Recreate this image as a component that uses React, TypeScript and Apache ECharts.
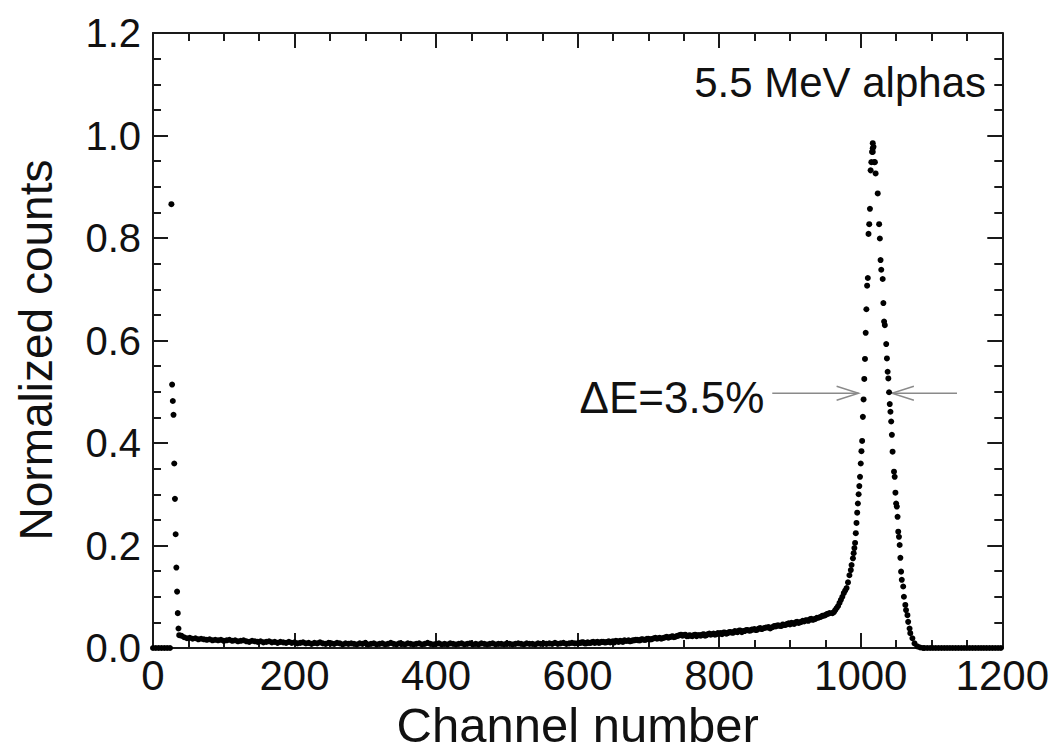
import React, { useEffect, useRef } from "react";
import * as echarts from "echarts";

// ---- data (channel, normalized counts) ----
const lowZeroCh = [0, 4, 8, 12, 16, 20, 24];
const spikeCh = [26, 27, 28, 29, 30, 31, 32, 33, 34, 35, 36, 37];
const spikeVal = [0.866, 0.514, 0.482, 0.455, 0.36, 0.291, 0.222, 0.157, 0.11, 0.068, 0.038, 0.025];

// continuum sampled every 4 channels starting at channel 40
const tailStart = 40;
const tailStep = 4;
const tailVal = [
  0.024, 0.021, 0.019, 0.020, 0.018, 0.019, 0.017, 0.018, 0.017, 0.016,
  0.017, 0.015, 0.016, 0.015, 0.016, 0.014, 0.015, 0.016, 0.014, 0.015,
  0.013, 0.014, 0.015, 0.013, 0.012, 0.014, 0.013, 0.012, 0.013, 0.011,
  0.012, 0.013, 0.011, 0.012, 0.010, 0.012, 0.011, 0.010, 0.012, 0.010,
  0.011, 0.009, 0.010, 0.011, 0.009, 0.010, 0.008, 0.010, 0.009, 0.011,
  0.009, 0.008, 0.010, 0.009, 0.008, 0.010, 0.009, 0.007, 0.009, 0.008,
  0.009, 0.008, 0.007, 0.009, 0.008, 0.010, 0.007, 0.008, 0.009, 0.007,
  0.008, 0.009, 0.007, 0.008, 0.010, 0.008, 0.007, 0.009, 0.008, 0.007,
  0.009, 0.008, 0.007, 0.008, 0.009, 0.007, 0.008, 0.010, 0.008, 0.007,
  0.008, 0.009, 0.007, 0.008, 0.007, 0.009, 0.008, 0.007, 0.008, 0.009,
  0.007, 0.008, 0.009, 0.007, 0.008, 0.007, 0.009, 0.008, 0.007, 0.008,
  0.009, 0.007, 0.008, 0.008, 0.007, 0.009, 0.008, 0.007, 0.008, 0.009,
  0.008, 0.007, 0.009, 0.008, 0.008, 0.007, 0.009, 0.008, 0.009, 0.008,
  0.009, 0.008, 0.010, 0.008, 0.009, 0.010, 0.008, 0.009, 0.010, 0.009,
  0.009, 0.010, 0.011, 0.009, 0.010, 0.011, 0.010, 0.012, 0.011, 0.012,
  0.011, 0.013, 0.012, 0.011, 0.013, 0.014, 0.012, 0.014, 0.015, 0.014,
  0.015, 0.016, 0.015, 0.017, 0.016, 0.018, 0.017, 0.019, 0.018, 0.020,
  0.019, 0.021, 0.020, 0.022, 0.021, 0.023, 0.025, 0.024, 0.026, 0.023,
  0.024, 0.025, 0.023, 0.025, 0.026, 0.024, 0.027, 0.026, 0.028, 0.027,
  0.028, 0.027, 0.030, 0.029, 0.031, 0.030, 0.032, 0.034, 0.031, 0.033,
  0.035, 0.034, 0.036, 0.035, 0.038, 0.037, 0.039, 0.040, 0.038, 0.041,
  0.042, 0.044, 0.043, 0.045, 0.047, 0.046, 0.048, 0.050, 0.049, 0.051,
  0.052, 0.054, 0.056, 0.055, 0.057, 0.059, 0.061, 0.063, 0.066, 0.068,
];
// second sampling of the continuum (offset by 2 channels) where the band is wider
const band2Start = 602;
const band2Val = [
  0.010, 0.011, 0.009, 0.011, 0.010, 0.012, 0.011, 0.010, 0.012, 0.011,
  0.012, 0.011, 0.013, 0.014, 0.012, 0.013, 0.015, 0.014, 0.013, 0.015,
  0.016, 0.015, 0.017, 0.016, 0.018, 0.017, 0.018, 0.020, 0.019, 0.018,
  0.020, 0.022, 0.021, 0.023, 0.022, 0.024, 0.026, 0.025, 0.023, 0.025,
  0.023, 0.026, 0.025, 0.024, 0.027, 0.025, 0.028, 0.027, 0.026, 0.029,
  0.029, 0.030, 0.028, 0.031, 0.030, 0.033, 0.031, 0.034, 0.033, 0.035,
  0.034, 0.036, 0.037, 0.036, 0.039, 0.038, 0.040, 0.041, 0.040, 0.043,
  0.044, 0.043, 0.046, 0.045, 0.048, 0.049, 0.047, 0.051, 0.050, 0.053,
  0.054, 0.053, 0.057, 0.056, 0.059, 0.060, 0.063, 0.064, 0.067,
];

const peakCh = [
  960, 962, 964, 966, 968, 970, 972, 974, 976, 978, 980, 982, 984, 986, 987, 989,
  990, 991, 992, 993, 994, 995, 996, 997, 998, 999, 1000, 1001, 1002, 1003, 1004,
  1005, 1006, 1007, 1008, 1009, 1010, 1011, 1012, 1013, 1014, 1015, 1016, 1017,
  1017, 1017, 1018, 1019, 1020, 1021,
  1024, 1026, 1027, 1028, 1029, 1031, 1032, 1033, 1034, 1036, 1037, 1038, 1039,
  1040, 1041, 1042, 1043, 1044, 1045, 1047, 1048, 1049, 1050, 1051, 1052, 1053,
  1054, 1055, 1056, 1057, 1058, 1060, 1061, 1063, 1064, 1066, 1067, 1069, 1070,
  1073, 1076, 1080, 1084, 1088,
];
const peakVal = [
  0.068, 0.070, 0.074, 0.078, 0.082, 0.088, 0.094, 0.100, 0.107, 0.112, 0.117, 0.128,
  0.142, 0.152, 0.162, 0.175, 0.185, 0.195, 0.205, 0.224, 0.244, 0.264, 0.282, 0.300,
  0.316, 0.334, 0.360, 0.384, 0.404, 0.451, 0.485, 0.525, 0.564, 0.615, 0.661, 0.707,
  0.722, 0.808, 0.827, 0.857, 0.932, 0.948, 0.968, 0.985, 0.975, 0.968, 0.978, 0.948,
  0.948, 0.926,
  0.887, 0.827, 0.799, 0.757, 0.738, 0.720, 0.673, 0.637, 0.630, 0.593, 0.565, 0.539,
  0.526, 0.499, 0.476, 0.461, 0.442, 0.416, 0.383, 0.344, 0.334, 0.303, 0.282, 0.276,
  0.256, 0.227, 0.217, 0.201, 0.176, 0.149, 0.133, 0.120, 0.100, 0.084, 0.074, 0.064,
  0.051, 0.038, 0.029, 0.019, 0.009, 0.003, 0.001, 0.0,
];
const highZeroStart = 1090;
const highZeroEnd = 1200;

const xTicks = { min: 0, max: 1200, interval: 200 };
const yTicks = { min: 0, max: 1.2, interval: 0.2 };

// annotation arrows (channel, value)
const fwhmLevel = 0.497;
const leftArrow = [875, 997];
const rightArrow = [1136, 1044];

const FONT = "'Liberation Sans', Arial, Helvetica, sans-serif";
const AX = "#1a1a1a";
const TXT = "#111";

export default function App() {
  const ref = useRef<HTMLDivElement>(null);
  useEffect(() => {
    if (!ref.current) return;
    const chart = echarts.init(ref.current, null, { renderer: "svg" });

    const data: number[][] = [];
    lowZeroCh.forEach((c) => data.push([c, 0]));
    spikeCh.forEach((c, i) => data.push([c, spikeVal[i]]));
    tailVal.forEach((v, i) => data.push([tailStart + i * tailStep, v]));
    band2Val.forEach((v, i) => data.push([band2Start + i * tailStep, v]));
    peakCh.forEach((c, i) => data.push([c, peakVal[i]]));
    for (let c = highZeroStart; c <= highZeroEnd; c += tailStep) data.push([c, 0]);

    const tick = () => ({
      axisLine: { show: true, onZero: false, lineStyle: { color: AX, width: 2 } },
      axisTick: { show: true, inside: true, length: 15, lineStyle: { color: AX, width: 2 } },
      minorTick: { show: true, splitNumber: 4, length: 8, lineStyle: { color: AX, width: 2 } },
      splitLine: { show: false },
      minorSplitLine: { show: false },
    });

    chart.setOption({
      animation: false,
      backgroundColor: "#fff",
      grid: { left: 153, right: 46, top: 33, bottom: 107, containLabel: false },
      xAxis: [
        {
          type: "value",
          ...xTicks,
          position: "bottom",
          ...tick(),
          axisLabel: {
            fontSize: 42,
            color: TXT,
            fontFamily: FONT,
            margin: 6,
            formatter: (v: number) => String(v),
          },
          name: "Channel number",
          nameLocation: "middle",
          nameGap: 51,
          nameTextStyle: { fontSize: 49, color: TXT, fontFamily: FONT },
        },
        {
          type: "value",
          ...xTicks,
          position: "top",
          ...tick(),
          axisLabel: { show: false },
        },
      ],
      yAxis: [
        {
          type: "value",
          ...yTicks,
          position: "left",
          ...tick(),
          axisLabel: {
            fontSize: 40,
            color: TXT,
            fontFamily: FONT,
            margin: 12,
            formatter: (v: number) => v.toFixed(1),
          },
        },
        {
          type: "value",
          ...yTicks,
          position: "right",
          ...tick(),
          axisLabel: { show: false },
        },
      ],
      series: [
        {
          type: "scatter",
          data,
          symbol: "circle",
          symbolSize: 6,
          clip: false,
          itemStyle: { color: "#000", opacity: 1 },
          xAxisIndex: 0,
          yAxisIndex: 0,
        },
      ],
    });

    const p = (c: number, v: number) =>
      chart.convertToPixel({ xAxisIndex: 0, yAxisIndex: 0 }, [c, v]) as number[];
    const l0 = p(leftArrow[0], fwhmLevel);
    const l1 = p(leftArrow[1], fwhmLevel);
    const r0 = p(rightArrow[0], fwhmLevel);
    const r1 = p(rightArrow[1], fwhmLevel);
    const gray = { stroke: "#8a8a8a", lineWidth: 1.4, fill: "none" };
    const hl = 22, hw = 7;

    chart.setOption({
      graphic: [
        { type: "line", shape: { x1: l0[0], y1: l0[1], x2: l1[0], y2: l1[1] }, style: gray },
        {
          type: "polyline",
          shape: { points: [[l1[0] - hl, l1[1] - hw], [l1[0], l1[1]], [l1[0] - hl, l1[1] + hw]] },
          style: gray,
        },
        { type: "line", shape: { x1: r0[0], y1: r0[1], x2: r1[0], y2: r1[1] }, style: gray },
        {
          type: "polyline",
          shape: { points: [[r1[0] + hl, r1[1] - hw], [r1[0], r1[1]], [r1[0] + hl, r1[1] + hw]] },
          style: gray,
        },
        {
          type: "text",
          x: 36,
          y: 350,
          rotation: Math.PI / 2,
          style: {
            text: "Normalized counts",
            fontSize: 46,
            fontFamily: FONT,
            fill: TXT,
            textAlign: "center",
            textVerticalAlign: "middle",
          },
        },
        {
          type: "text",
          x: l0[0] - 8,
          y: l0[1] + 4,
          style: {
            text: "ΔE=3.5%",
            fontSize: 44,
            fontFamily: FONT,
            fill: TXT,
            textAlign: "right",
            textVerticalAlign: "middle",
          },
        },
        {
          type: "text",
          x: 986,
          y: 82,
          style: {
            text: "5.5 MeV alphas",
            fontSize: 42,
            fontFamily: FONT,
            fill: TXT,
            textAlign: "right",
            textVerticalAlign: "middle",
          },
        },
      ],
    });

    return () => chart.dispose();
  }, []);

  return (
    <div
      ref={ref}
      style={{ position: "fixed", left: 0, top: 0, width: 1052, height: 755 }}
    />
  );
}
